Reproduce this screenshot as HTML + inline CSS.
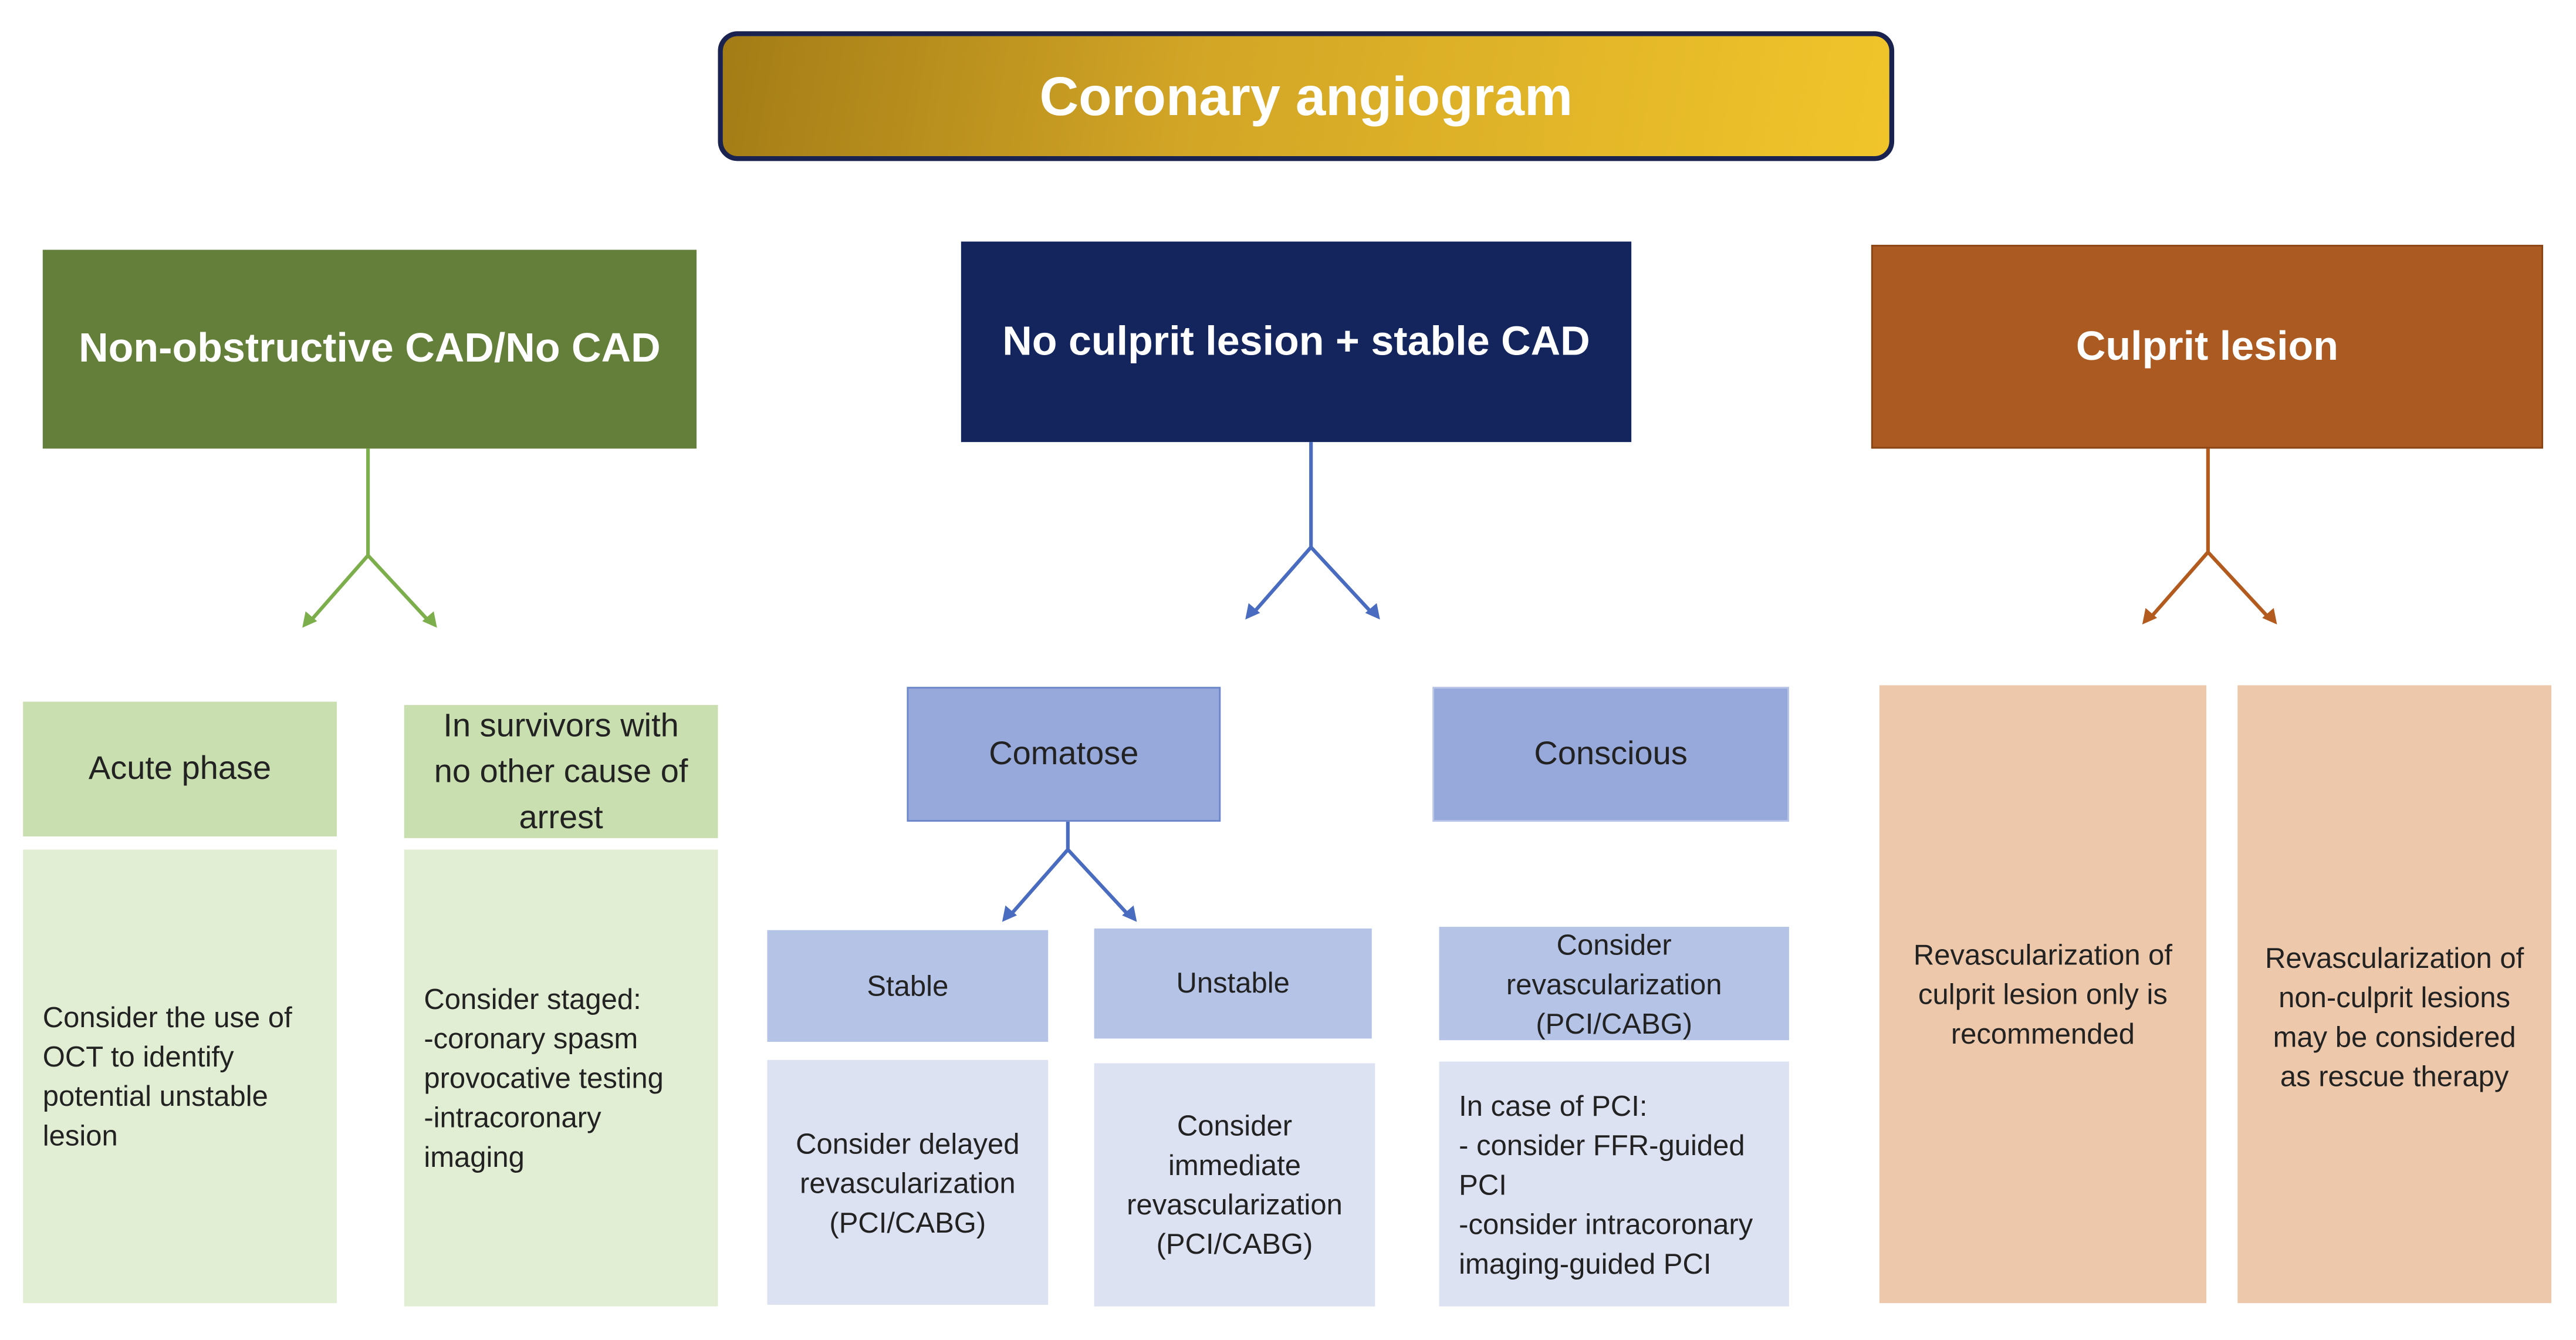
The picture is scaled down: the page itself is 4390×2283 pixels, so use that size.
<!DOCTYPE html>
<html><head><meta charset="utf-8"><style>
html,body{margin:0;padding:0;background:#fff;}
body{width:4390px;height:2283px;overflow:hidden;position:relative;}
#c{position:absolute;left:0;top:0;width:1568px;height:815px;transform:scale(2.79974);transform-origin:0 0;font-family:"Liberation Sans",sans-serif;}
.b{position:absolute;box-sizing:border-box;display:flex;align-items:center;justify-content:center;text-align:center;color:#222;}
.l{justify-content:flex-start;text-align:left;padding-left:12px;}
svg{position:absolute;left:0;top:0;}
</style></head><body><div id="c">
<div class="b" style="left:437px;top:19px;width:716px;height:79px;border:3px solid #1a2350;border-radius:12px;background:linear-gradient(100deg,#a37c16 0%,#d2a526 40%,#f0c52a 100%);color:#fff;font-weight:bold;font-size:33px;">Coronary angiogram</div>

<div class="b" style="left:26px;top:152px;width:398px;height:121px;background:#647f3a;color:#fff;font-weight:bold;font-size:25px;">Non-obstructive CAD/No CAD</div>
<div class="b" style="left:585px;top:147px;width:408px;height:122px;background:#13255c;color:#fff;font-weight:bold;font-size:25px;">No culprit lesion + stable CAD</div>
<div class="b" style="left:1139px;top:149px;width:409px;height:124px;background:#ab5a21;border:1px solid #8a4515;color:#fff;font-weight:bold;font-size:25px;">Culprit lesion</div>

<svg width="1568" height="815">
<g fill="none" stroke-width="2.2">
<path d="M224 273V338M224 338L188 379M224 338L262 379" stroke="#7cae4b"/>
<path d="M798 269V333M798 333L762 374M798 333L836 374" stroke="#4a6cc0"/>
<path d="M1344 273V336M1344 336L1308 377M1344 336L1382 377" stroke="#b35a1e"/>
<path d="M650 500V517M650 517L614 558M650 517L688 558" stroke="#4a6cc0"/>
</g>
<g stroke="none">
<polygon points="184,382 186,372 193,378" fill="#7cae4b"/><polygon points="266,382 264,372 257,378" fill="#7cae4b"/>
<polygon points="758,377 760,367 767,373" fill="#4a6cc0"/><polygon points="840,377 838,367 831,373" fill="#4a6cc0"/>
<polygon points="1304,380 1306,370 1313,376" fill="#b35a1e"/><polygon points="1386,380 1384,370 1377,376" fill="#b35a1e"/>
<polygon points="610,561 612,551 619,557" fill="#4a6cc0"/><polygon points="692,561 690,551 683,557" fill="#4a6cc0"/>
</g></svg>

<div class="b" style="left:14px;top:427px;width:191px;height:82px;background:#c9dfb0;font-size:20px;">Acute phase</div>
<div class="b" style="left:246px;top:429px;width:191px;height:81px;background:#c9dfb0;font-size:20px;line-height:28px;padding:0 14px;">In survivors with no other cause of arrest</div>
<div class="b l" style="left:14px;top:517px;width:191px;height:276px;background:#e2eed4;font-size:17.5px;line-height:24px;padding-right:12px;">Consider the use of OCT to identify potential unstable lesion</div>
<div class="b l" style="left:246px;top:517px;width:191px;height:278px;background:#e2eed4;font-size:17.5px;line-height:24px;padding-right:24px;">Consider staged:<br>-coronary spasm provocative testing<br>-intracoronary imaging</div>

<div class="b" style="left:552px;top:418px;width:191px;height:82px;background:#97a8da;border:1px solid #6c86cc;font-size:20px;">Comatose</div>
<div class="b" style="left:872px;top:418px;width:217px;height:82px;background:#97a8da;border:1px solid #b8c4e8;font-size:20px;">Conscious</div>
<div class="b" style="left:467px;top:566px;width:171px;height:68px;background:#b4c3e6;font-size:17.5px;">Stable</div>
<div class="b" style="left:666px;top:565px;width:169px;height:67px;background:#b4c3e6;font-size:17.5px;">Unstable</div>
<div class="b" style="left:876px;top:564px;width:213px;height:69px;background:#b4c3e6;font-size:17.5px;line-height:24px;padding:0 30px;">Consider revascularization (PCI/CABG)</div>
<div class="b" style="left:467px;top:645px;width:171px;height:149px;background:#dde2f2;font-size:17.5px;line-height:24px;">Consider delayed revascularization (PCI/CABG)</div>
<div class="b" style="left:666px;top:647px;width:171px;height:148px;background:#dde2f2;font-size:17.5px;line-height:24px;padding:0 30px;">Consider immediate revascularization (PCI/CABG)</div>
<div class="b l" style="left:876px;top:646px;width:213px;height:149px;background:#dde2f2;font-size:17.5px;line-height:24px;">In case of PCI:<br>- consider FFR-guided PCI<br>-consider intracoronary imaging-guided PCI</div>

<div class="b" style="left:1144px;top:417px;width:199px;height:376px;background:#edc8aa;font-size:17.5px;line-height:24px;padding:0 14px;">Revascularization of culprit lesion only is recommended</div>
<div class="b" style="left:1362px;top:417px;width:191px;height:376px;background:#edc8aa;font-size:17.5px;line-height:24px;padding:28px 14px 0;">Revascularization of non-culprit lesions may be considered as rescue therapy</div>
</div></body></html>
